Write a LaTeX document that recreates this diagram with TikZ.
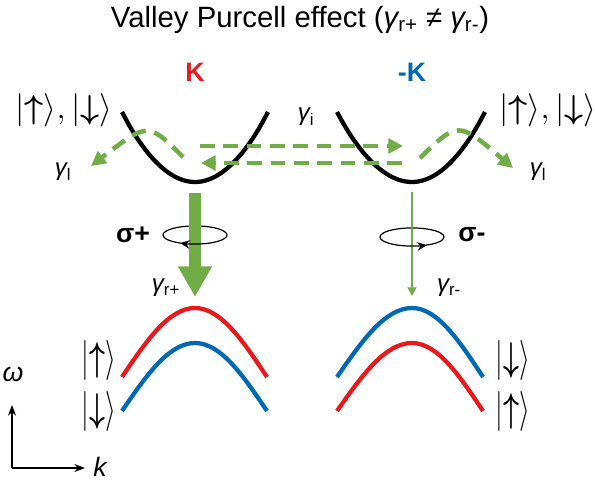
\documentclass[tikz,border=0pt]{standalone}
\usepackage{fontspec}
\usepackage{graphicx}
\setmainfont{Liberation Sans}
\usetikzlibrary{arrows.meta}

\definecolor{kred}{RGB}{232,24,28}
\definecolor{kblue}{RGB}{0,104,180}
\definecolor{pgreen}{RGB}{112,173,71}

\newcommand{\g}{{\itshape γ}}
\newcommand{\up}{\mbox{\boldmath$\uparrow$}}
\newcommand{\dn}{\mbox{\boldmath$\downarrow$}}
\newcommand{\tallket}[1]{\scalebox{1}[1.45]{$|{#1}\rangle$}}

\begin{document}
\begin{tikzpicture}[x=0.75pt, y=-0.75pt]
\useasboundingbox (0,0) rectangle (595,483);

\begin{scope}[every node/.style={inner sep=0pt}]
    \node (title) at (300, 20) [font=\fontsize{22}{26}\selectfont] {Valley Purcell effect (\g\textsubscript{r+} ≠ \g\textsubscript{r-})};

    \node (K) at (195, 72) [text=kred, font=\fontsize{20}{24}\selectfont\bfseries] {K};
    \node (mK) at (412, 72) [text=kblue, font=\fontsize{20}{24}\selectfont\bfseries] {-K};

    \node (ketL) at (64, 110) [font=\fontsize{23}{27}\selectfont] {$|\up\rangle,|\dn\rangle$};
    \node (ketR) at (548, 110) [font=\fontsize{23}{27}\selectfont] {$|\up\rangle,|\dn\rangle$};

    \node (gi) at (306, 117) [font=\fontsize{18}{22}\selectfont] {\g\textsubscript{i}};
    \node (glL) at (63, 172) [font=\fontsize{18}{22}\selectfont] {\g\textsubscript{l}};
    \node (glR) at (538, 172) [font=\fontsize{18}{22}\selectfont] {\g\textsubscript{l}};

    \node (sp) at (133, 235) [font=\fontsize{20}{24}\selectfont\bfseries] {σ+};
    \node (sm) at (472, 235) [font=\fontsize{20}{24}\selectfont\bfseries] {σ-};

    \node (grp) at (166, 288) [font=\fontsize{18}{22}\selectfont] {\g\textsubscript{r+}};
    \node (grm) at (449, 288) [font=\fontsize{18}{22}\selectfont] {\g\textsubscript{r-}};

    \node (upL) at (99, 360) [font=\fontsize{20}{24}\selectfont] {\tallket{\up}};
    \node (downL) at (99, 411) [font=\fontsize{20}{24}\selectfont] {\tallket{\dn}};
    \node (downR) at (513, 360) [font=\fontsize{20}{24}\selectfont] {\tallket{\dn}};
    \node (upR) at (513, 411) [font=\fontsize{20}{24}\selectfont] {\tallket{\up}};

    \node (w) at (13, 374) [font=\fontsize{20}{24}\selectfont\itshape] {ω};
    \node (k) at (100, 467) [font=\fontsize{20}{24}\selectfont\itshape] {k};
\end{scope}

% bands
\draw [line width=3.2pt] (122, 112) parabola bend (195, 182) (268, 112);
\draw [line width=3.2pt] (337, 112) parabola bend (412, 182) (485, 112);

\draw [kred, line width=3.2pt] (122, 377) sin (195, 308) cos (267, 377);
\draw [kblue, line width=3.2pt] (122, 411) sin (195, 343) cos (267, 411);
\draw [kblue, line width=3.2pt] (337, 377) sin (412, 308) cos (483, 377);
\draw [kred, line width=3.2pt] (337, 411) sin (412, 343) cos (483, 411);

% rings, back part
\coordinate (rp) at (195, 235);
\coordinate (rm) at (412, 237);
\draw [line width=0.9pt] (rp) ++(24pt,0) arc [start angle=0, end angle=180, x radius=24pt, y radius=6.8pt];
\draw [line width=0.9pt] (rm) ++(24pt,0) arc [start angle=0, end angle=180, x radius=24pt, y radius=6.8pt];

\coordinate (cK) at (195, 193);
\coordinate (vK) at (195, 297);
\coordinate (cmK) at (412, 192);
\coordinate (vmK) at (412, 296);

\coordinate (iL1) at (200, 146);
\coordinate (iR1) at (403, 146);
\coordinate (iR2) at (402, 163);
\coordinate (iL2) at (201, 163);

\coordinate (lL0) at (183, 157);
\coordinate (lL1) at (91, 166);
\coordinate (lR0) at (420, 158);
\coordinate (lR1) at (513, 168);

\begin{scope}[pgreen]
    \draw [line width=9pt, -{Triangle[width=24pt,length=23pt]}] (cK) -- (vK);
    \draw [line width=1.8pt, -{Triangle[width=6.5pt,length=6.5pt]}] (cmK) -- (vmK);

    \begin{scope}[line width=3.4pt, dash pattern=on 11pt off 6.5pt,
                  >={Triangle[width=11pt,length=11pt]}]
        \draw [->] (iL1) -- (iR1);
        \draw [->] (iR2) -- (iL2);
        \draw [->] (lL0) .. controls (148, 122) .. (lL1);
        \draw [->] (lR0) .. controls (458, 121) .. (lR1);
    \end{scope}
\end{scope}

% rings, front part with the sense of rotation
\begin{scope}[line width=0.9pt, >={Stealth[length=7.5pt,width=6.5pt]}]
    \draw [->] (rp) ++(24pt,0) arc [start angle=0, end angle=-118, x radius=24pt, y radius=6.8pt];
    \draw (rp) ++(-24pt,0) arc [start angle=180, end angle=244, x radius=24pt, y radius=6.8pt];
    \draw [->] (rm) ++(-24pt,0) arc [start angle=180, end angle=298, x radius=24pt, y radius=6.8pt];
    \draw (rm) ++(24pt,0) arc [start angle=360, end angle=296, x radius=24pt, y radius=6.8pt];
\end{scope}

% axes
\coordinate (o) at (12, 468);
\draw [line width=0.8pt, -{Stealth[length=8pt,width=6pt]}] (o) -- (12, 405);
\draw [line width=0.8pt, -{Stealth[length=8pt,width=6pt]}] (o) -- (85, 468);
\end{tikzpicture}
\end{document}
